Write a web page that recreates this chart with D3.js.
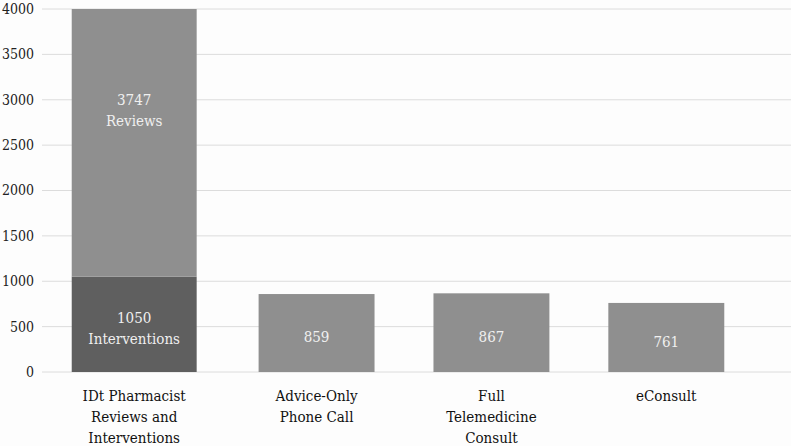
<!DOCTYPE html>
<html>
<head>
<meta charset="utf-8">
<script src="https://cdn.jsdelivr.net/npm/d3@7"></script>
<style>
  body { margin: 0; background: #fdfdfd; }
  svg { display: block; }
  svg text { font-family: "DejaVu Serif Condensed", "DejaVu Serif", serif; font-stretch: condensed; }
</style>
</head>
<body>
<svg width="791" height="446"></svg>
<script>
let WIDTH  = 791,
    HEIGHT = 446;

let categories = [
    ["IDt Pharmacist", "Reviews and", "Interventions"],
    ["Advice-Only", "Phone Call"],
    ["Full", "Telemedicine", "Consult"],
    ["eConsult"]
];
let baseValues  = [1050, 859, 867, 761];
let baseLabels  = [["1050", "Interventions"], ["859"], ["867"], ["761"]];
let topValues   = [3747, 0, 0, 0];
let topLabels   = [["3747", "Reviews"], [], [], []];
let yTicks      = [0, 500, 1000, 1500, 2000, 2500, 3000, 3500, 4000];

let svg = d3.select("svg");

let y = d3.scaleLinear().domain([0, 4000]).range([372, 9]);
let x = d3.scaleBand()
          .domain(d3.range(categories.length))
          .range([54, 754])
          .paddingInner(0.337)
          .paddingOuter(0.17);

// clip so the stacked bar stops at the top of the axis
svg.append("defs").append("clipPath").attr("id", "plot")
   .append("rect").attr("x", 0).attr("y", y(4000)).attr("width", WIDTH).attr("height", y(0) - y(4000));

// gridlines
svg.append("g").selectAll("line")
   .data(yTicks)
   .enter().append("line")
   .attr("x1", 42).attr("x2", WIDTH)
   .attr("y1", d => y(d)).attr("y2", d => y(d))
   .attr("stroke", "#dcdcdc").attr("stroke-width", 1);

// y tick labels
svg.append("g").selectAll("text")
   .data(yTicks)
   .enter().append("text")
   .attr("x", 34).attr("y", d => y(d))
   .attr("dy", "0.35em")
   .attr("text-anchor", "end")
   .attr("font-size", 14)
   .attr("fill", "#222")
   .text(d => d);

// the first bar is drawn a bit wider and further left
function barX(i) { return i === 0 ? x(i) - 12 : x(i); }
function barW(i) { return i === 0 ? x.bandwidth() + 9 : x.bandwidth(); }

let bars = svg.append("g").attr("clip-path", "url(#plot)");

bars.selectAll("rect.base")
    .data(baseValues)
    .enter().append("rect")
    .attr("class", "base")
    .attr("x", (d, i) => barX(i))
    .attr("width", (d, i) => barW(i))
    .attr("y", d => y(d))
    .attr("height", d => y(0) - y(d))
    .attr("fill", (d, i) => i === 0 ? "#5f5f5f" : "#8f8f8f");

bars.selectAll("rect.top")
    .data(topValues)
    .enter().append("rect")
    .attr("class", "top")
    .attr("x", (d, i) => barX(i))
    .attr("width", (d, i) => barW(i))
    .attr("y", (d, i) => y(baseValues[i] + d))
    .attr("height", d => y(0) - y(d))
    .attr("fill", "#8f8f8f");

// labels inside bars
function addLabels(lines, cx, cy) {
    let t = svg.append("text")
               .attr("text-anchor", "middle")
               .attr("font-size", 15)
               .attr("fill", "#f0f0f0");
    let n = lines.length;
    lines.forEach((s, k) => {
        t.append("tspan")
         .attr("x", cx)
         .attr("y", cy + (k - (n - 1) / 2) * 21)
         .attr("dy", "0.35em")
         .text(s);
    });
}

baseValues.forEach((v, i) => {
    let cx = barX(i) + barW(i) / 2;
    addLabels(baseLabels[i], cx, (y(0) + y(v)) / 2 + 4);
    if (topValues[i] > 0) {
        addLabels(topLabels[i], cx, (y(v) + y(v + topValues[i])) / 2 + 4);
    }
});

// category labels
categories.forEach((lines, i) => {
    let cx = barX(i) + barW(i) / 2;
    let t = svg.append("text")
               .attr("text-anchor", "middle")
               .attr("font-size", 15)
               .attr("fill", "#111");
    lines.forEach((s, k) => {
        t.append("tspan").attr("x", cx).attr("y", 401 + k * 21).text(s);
    });
});
</script>
</body>
</html>
